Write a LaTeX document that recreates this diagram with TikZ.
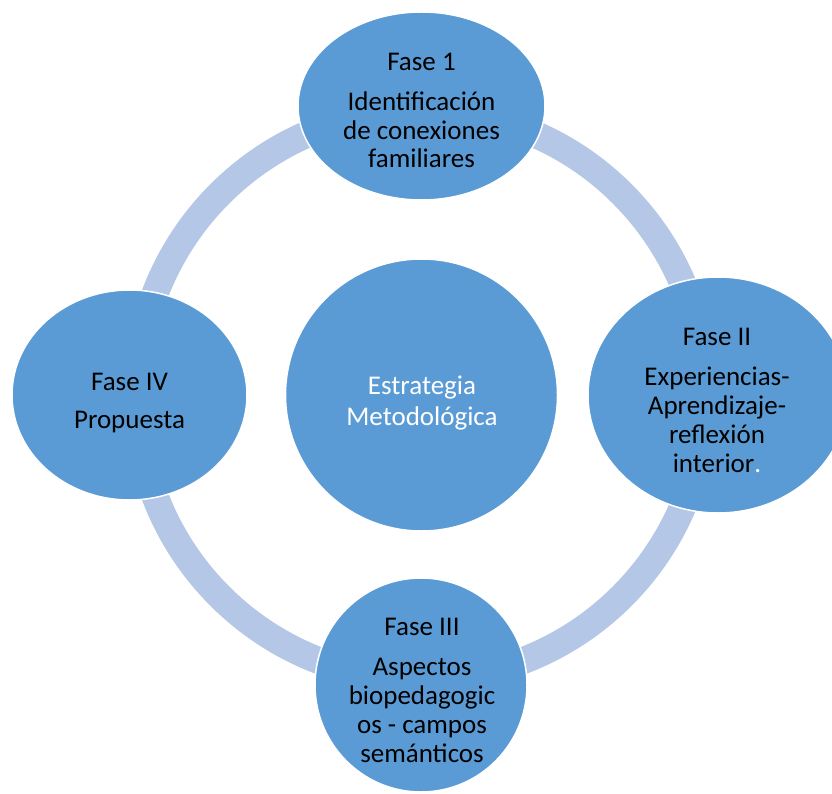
\documentclass[tikz,border=0pt]{standalone}
\usepackage{fontspec}
\setmainfont{Carlito}
\usetikzlibrary{shapes.geometric}
\definecolor{phasefill}{HTML}{5B9BD5}
\definecolor{ringcol}{HTML}{B4C7E7}
\tikzset{
  phase/.style={ellipse, draw=white, line width=1.5pt, fill=phasefill, inner sep=0pt},
  txt/.style={anchor=base, inner sep=0pt, font=\fontsize{27}{29}\selectfont, text=black},
  wtxt/.style={txt, text=white}
}
\begin{document}
\begin{tikzpicture}[x=1pt,y=-1pt]
\useasboundingbox (0,0) rectangle (832,794);
% ring
\coordinate (ringc) at (421,395);
\draw[ringcol, line width=27pt] (ringc) circle[radius=284.5pt];
% circles
\node[phase, minimum width=247pt, minimum height=188pt] (f1) at (421.5,106) {};
\node[phase, minimum width=260pt, minimum height=236pt] (f2) at (718,395) {};
\node[phase, minimum width=212pt, minimum height=214pt] (f3) at (421,685) {};
\node[phase, minimum width=235pt, minimum height=210pt] (f4) at (129.5,395) {};
\node[phase, minimum width=272pt, minimum height=272pt] (mid) at (421.5,395) {};
% Fase 1
\node[txt] (f1a) at (421.5,71) {Fase 1};
\node[txt] (f1b) at (421.5,111) {Identificación};
\node[txt] (f1c) at (421.5,139.5) {de conexiones};
\node[txt] (f1d) at (421.5,168) {familiares};
% Fase II
\node[txt] (f2a) at (717,345) {Fase II};
\node[txt] (f2b) at (717,385) {Experiencias-};
\node[txt] (f2c) at (717,414) {Aprendizaje-};
\node[txt] (f2d) at (717,443) {reflexión};
\node[txt] (f2e) at (717,472) {interior\textcolor{white}{.}};
% Fase III
\node[txt] (f3a) at (422,635) {Fase III};
\node[txt] (f3b) at (422,675) {Aspectos};
\node[txt] (f3c) at (422,704) {biopedagogic};
\node[txt] (f3d) at (422,733) {os - campos};
\node[txt] (f3e) at (422,762) {semánticos};
% Fase IV
\node[txt] (f4a) at (129.5,390) {Fase IV};
\node[txt] (f4b) at (129.5,428) {Propuesta};
% centre
\node[wtxt] (ma) at (422,394) {Estrategia};
\node[wtxt] (mb) at (422,425) {Metodológica};
\end{tikzpicture}
\end{document}
